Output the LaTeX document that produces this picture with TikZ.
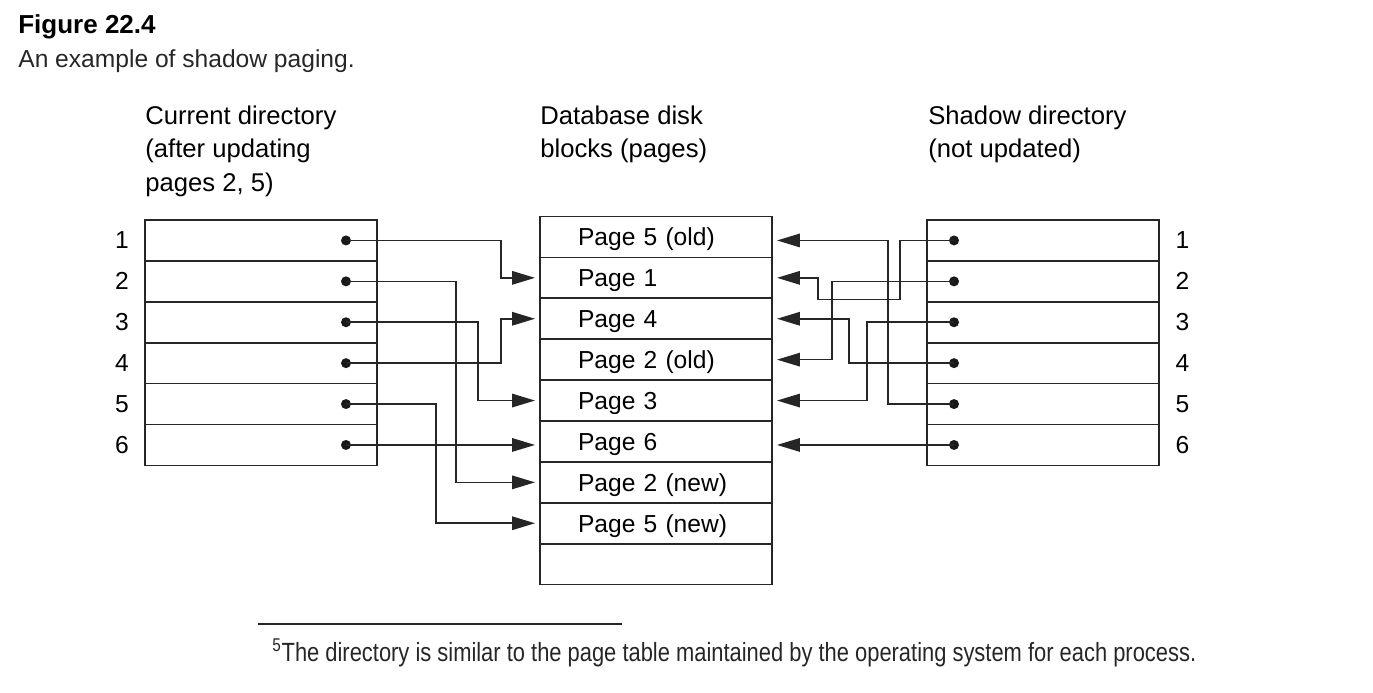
\documentclass[tikz,border=0pt]{standalone}
\usepackage{graphicx}
\usepackage{fontspec}
\setmainfont{Liberation Sans}
\usetikzlibrary{arrows.meta}

\begin{document}
\begin{tikzpicture}[
	x=0.02cm, y=-0.02cm,
	cell/.style={
		rectangle,
		draw=black!85,
		line width=1pt,
		minimum width=4.64cm,
		minimum height=0.818cm,
		inner sep=0pt,
		outer sep=0pt,
	},
	page/.style={% disk block with its label
		cell,
		text width=3.12cm,
		inner xsep=0.76cm,
		text height=0.46cm,
		text depth=0.1cm,
		align=left,
		font=\fontsize{14}{17}\selectfont,
	},
	dot/.style={circle, fill=black!90, inner sep=0pt, minimum size=0.2cm},
	num/.style={font=\fontsize{14}{17}\selectfont},
	head/.style={anchor=north west, inner sep=0pt, align=left, font=\fontsize{14.6}{19}\selectfont},
	PtrArrow/.style={% pointer arrows
		-{Triangle[length=0.46cm,width=0.27cm]},
		shorten >=0.1cm,
		line width=0.95pt,
		draw=black!85,
	},
]
\useasboundingbox (0,0) rectangle (1373,693);

% caption
\node[anchor=base west, inner sep=0pt, font=\fontsize{14.8}{17}\selectfont\bfseries] (fig) at (18,33) {Figure 22.4};
\node[anchor=base west, inner sep=0pt, font=\fontsize{14}{17}\selectfont, text=black!85] (cap) at (18,67) {An example of shadow paging.};

% headings
\node[head] (hcur) at (145,105.5) {Current directory\\(after updating\\pages 2, 5)};
\node[head] (hdisk) at (540,105.5) {Database disk\\blocks (pages)};
\node[head] (hshd) at (928,105.5) {Shadow directory\\(not updated)};

% current directory
\node[cell] (cur1) at (261,240.45) {};
\node[cell] (cur2) at (261,281.35) {};
\node[cell] (cur3) at (261,322.25) {};
\node[cell] (cur4) at (261,363.15) {};
\node[cell] (cur5) at (261,404.05) {};
\node[cell] (cur6) at (261,444.95) {};

% disk blocks
\node[page] (disk1) at (656,236.95) {Page 5 (old)};
\node[page] (disk2) at (656,277.85) {Page 1};
\node[page] (disk3) at (656,318.75) {Page 4};
\node[page] (disk4) at (656,359.65) {Page 2 (old)};
\node[page] (disk5) at (656,400.55) {Page 3};
\node[page] (disk6) at (656,441.45) {Page 6};
\node[page] (disk7) at (656,482.35) {Page 2 (new)};
\node[page] (disk8) at (656,523.25) {Page 5 (new)};
\node[page] (disk9) at (656,564.15) {};

% shadow directory
\node[cell] (shd1) at (1043,240.45) {};
\node[cell] (shd2) at (1043,281.35) {};
\node[cell] (shd3) at (1043,322.25) {};
\node[cell] (shd4) at (1043,363.15) {};
\node[cell] (shd5) at (1043,404.05) {};
\node[cell] (shd6) at (1043,444.95) {};

% row numbers
\node[num] (n1) at ([xshift=-0.46cm]cur1.west) {1};
\node[num] (n2) at ([xshift=-0.46cm]cur2.west) {2};
\node[num] (n3) at ([xshift=-0.46cm]cur3.west) {3};
\node[num] (n4) at ([xshift=-0.46cm]cur4.west) {4};
\node[num] (n5) at ([xshift=-0.46cm]cur5.west) {5};
\node[num] (n6) at ([xshift=-0.46cm]cur6.west) {6};
\node[num] (m1) at ([xshift=0.47cm]shd1.east) {1};
\node[num] (m2) at ([xshift=0.47cm]shd2.east) {2};
\node[num] (m3) at ([xshift=0.47cm]shd3.east) {3};
\node[num] (m4) at ([xshift=0.47cm]shd4.east) {4};
\node[num] (m5) at ([xshift=0.47cm]shd5.east) {5};
\node[num] (m6) at ([xshift=0.47cm]shd6.east) {6};

% pointers
\node[dot] (c1) at ([xshift=-0.62cm]cur1.east) {};
\node[dot] (c2) at ([xshift=-0.62cm]cur2.east) {};
\node[dot] (c3) at ([xshift=-0.62cm]cur3.east) {};
\node[dot] (c4) at ([xshift=-0.62cm]cur4.east) {};
\node[dot] (c5) at ([xshift=-0.62cm]cur5.east) {};
\node[dot] (c6) at ([xshift=-0.62cm]cur6.east) {};
\node[dot] (s1) at ([xshift=0.54cm]shd1.west) {};
\node[dot] (s2) at ([xshift=0.54cm]shd2.west) {};
\node[dot] (s3) at ([xshift=0.54cm]shd3.west) {};
\node[dot] (s4) at ([xshift=0.54cm]shd4.west) {};
\node[dot] (s5) at ([xshift=0.54cm]shd5.west) {};
\node[dot] (s6) at ([xshift=0.54cm]shd6.west) {};

\draw[PtrArrow] (c1.center) -- ++(155,0) |- (disk2.west);
\draw[PtrArrow] (c2.center) -- ++(110,0) |- (disk7.west);
\draw[PtrArrow] (c3.center) -- ++(132,0) |- (disk5.west);
\draw[PtrArrow] (c4.center) -- ++(155,0) |- (disk3.west);
\draw[PtrArrow] (c5.center) -- ++(90,0) |- (disk8.west);
\draw[PtrArrow] (c6.center) -- (c6.center -| disk6.west);

\draw[PtrArrow] (s1.center) -- ++(-54,0) -- ++(0,59) -- ++(-82,0) |- (disk2.east);
\draw[PtrArrow] (s2.center) -- ++(-122,0) |- (disk4.east);
\draw[PtrArrow] (s3.center) -- ++(-87,0) |- (disk5.east);
\draw[PtrArrow] (s4.center) -- ++(-105,0) |- (disk3.east);
\draw[PtrArrow] (s5.center) -- ++(-66,0) |- (s1.center -| disk1.east);
\draw[PtrArrow] (s6.center) -- (s6.center -| disk6.east);

% footnote
\draw[line width=0.8pt, black!85] (258,624) -- (622,624);
\node[anchor=base west, inner sep=0pt, text=black!85] (foot) at (272,661)
	{\resizebox{18.48cm}{\height}{\fontsize{15}{18}\selectfont\textsuperscript{5}The directory is similar to the page table maintained by the operating system for each process.}};

\end{tikzpicture}
\end{document}
